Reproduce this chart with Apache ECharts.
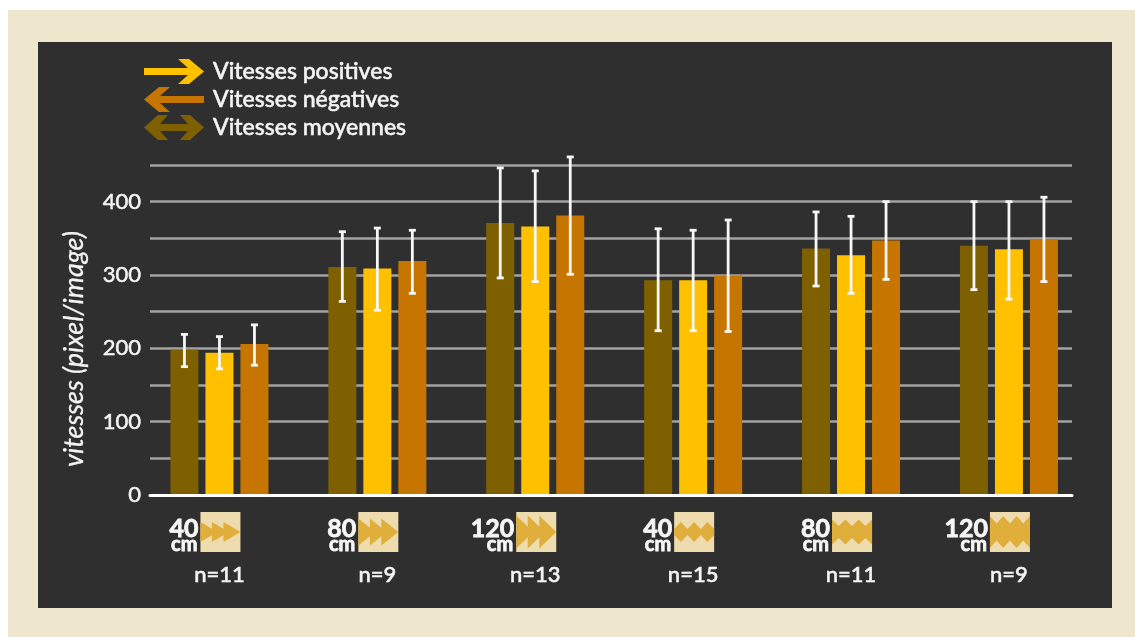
<!DOCTYPE html>
<html><head><meta charset="utf-8">
<style>html,body{margin:0;padding:0;background:#fff}#c{width:1135px;height:637px}</style>
<script src="https://cdn.jsdelivr.net/npm/echarts@6/dist/echarts.min.js"></script>
</head><body><div id="c"></div>
<script>
const distances = ['40','80','120','40','80','120'];
const counts = ['n=11','n=9','n=13','n=15','n=11','n=9'];
const tileKinds = ['arrow','arrow','arrow','wave','wave','wave'];
const moyennes = [198,311,371,293,336,340];
const positives = [194,309,366,293,327,335];
const negatives = [206,319,381,299,347,349];
const moyLow  = [175,264,296,224,285,280];
const moyHigh = [219,359,446,363,386,400];
const posLow  = [172,252,291,224,275,267];
const posHigh = [216,364,442,361,380,400];
const negLow  = [177,275,301,223,294,291];
const negHigh = [232,361,461,375,400,406];
const yTicks = [0,100,200,300,400];

const C = {page:'#EFE6CE',panel:'#2F2F2F',grid:'#A3A3A3',pos:'#FFC000',neg:'#C67600',moy:'#7F6000',tile:'#EEDCAF',mark:'#E0AE3A',text:'#F4F4F4'};
const FONT = 'Lato';
const heavy = {textBorderColor:C.text,textBorderWidth:0.5};

const arrowR = 'path://M0 9L44 9L34 0L45 0L60 12.5L45 25L34 25L44 16L0 16Z';
const arrowL = 'path://M60 9L16 9L26 0L15 0L0 12.5L15 25L26 25L16 16L60 16Z';
const arrowB = 'path://M0 12.5L14 0L24 0L16 9L44 9L36 0L46 0L60 12.5L46 25L36 25L44 16L16 16L24 25L14 25Z';

function errSeries(name, lows, highs, offset){
  return {
    type:'custom', name, xAxisIndex:1, yAxisIndex:1, z:4, silent:true,
    encode:{x:0,y:[1,2]},
    data:lows.map((l,i)=>[i,l,highs[i]]),
    renderItem(params, api){
      const hi = api.coord([api.value(0), api.value(2)]);
      const lo = api.coord([api.value(0), api.value(1)]);
      const x = hi[0]+offset, cap = 3.5;
      const st = {stroke:'#F7F7F7', lineWidth:2.8, fill:null};
      return {type:'group',children:[
        {type:'line',shape:{x1:x,y1:hi[1],x2:x,y2:lo[1]},style:st},
        {type:'line',shape:{x1:x-cap,y1:hi[1],x2:x+cap,y2:hi[1]},style:st},
        {type:'line',shape:{x1:x-cap,y1:lo[1],x2:x+cap,y2:lo[1]},style:st}
      ]};
    }
  };
}

function tileMarks(kind, level, cx, cy){
  const marks = [];
  const L = cx-20;
  if(kind==='arrow'){
    const h = [10,13.5,16.5][level];
    for(let i=0;i<3;i++){
      const x0 = L+i*11.5;
      marks.push({type:'polygon',shape:{points:[[x0,cy-h],[x0+17,cy],[x0,cy+h]]},style:{fill:C.mark}});
    }
  } else {
    const pk = [10,12.5,16][level], vl = [3,6,8.5][level];
    const top=[], bot=[];
    const n = 3;
    for(let i=0;i<=2*n;i++){
      const x = L+i*(40/(2*n));
      const odd = i%2===1;
      const d = level===0 ? (odd?pk:vl) : (odd?vl:pk);
      top.push([x,cy-d]); bot.unshift([x,cy+d]);
    }
    marks.push({type:'polygon',shape:{points:top.concat(bot)},style:{fill:C.mark}});
  }
  return marks;
}

const tileSeries = {
  type:'custom', name:'tuiles', xAxisIndex:1, yAxisIndex:1, z:3, silent:true, clip:false,
  encode:{x:0,y:1},
  data:distances.map((d,i)=>[i,0]),
  renderItem(params, api){
    const i = api.value(0);
    const p = api.coord([i,0]);
    const cx = p[0]+1, cy = 532;
    const level = ['40','80','120'].indexOf(distances[i]);
    const strong = {stroke:'#F6F6F6',lineWidth:0.8};
    const children = [
      {type:'rect',shape:{x:cx-20,y:cy-20,width:40,height:40},style:{fill:C.tile}},
      ...tileMarks(tileKinds[i], level, cx, cy),
      {type:'text',style:{x:cx-22,y:529,text:distances[i],fill:'#F6F6F6',font:'700 25px '+FONT,align:'right',verticalAlign:'middle',...strong}},
      {type:'text',style:{x:cx-23,y:545,text:'cm',fill:'#F6F6F6',font:'700 20px '+FONT,align:'right',verticalAlign:'middle',...strong}}
    ];
    return {type:'group',children};
  }
};

const chart = echarts.init(document.getElementById('c'),null,{renderer:'canvas'});
chart.setOption({
  animation:false,
  backgroundColor:'#fff',
  textStyle:{fontFamily:FONT},
  graphic:[
    {type:'rect',z:-10,silent:true,shape:{x:8,y:10,width:1127,height:627},style:{fill:C.page}},
    {type:'rect',z:-9,silent:true,shape:{x:38,y:42,width:1074,height:566},style:{fill:C.panel}}
  ],
  legend:{
    orient:'vertical',left:139,top:54,itemWidth:60,itemHeight:25,itemGap:3,
    selectedMode:false,
    textStyle:{color:C.text,fontSize:23,fontWeight:500,fontFamily:FONT,padding:[0,0,0,4],...heavy},
    data:[
      {name:'Vitesses positives',icon:arrowR},
      {name:'Vitesses négatives',icon:arrowL},
      {name:'Vitesses moyennes',icon:arrowB}
    ]
  },
  grid:[
    {left:150,top:165,width:922,height:330},
    {left:140.5,top:165,width:947.4,height:330}
  ],
  xAxis:[
    {gridIndex:0,type:'value',min:0,max:1,z:6,splitLine:{show:false},axisTick:{show:false},axisLabel:{show:false},
     axisLine:{show:true,onZero:false,lineStyle:{color:'#FFFFFF',width:3}}},
    {gridIndex:1,type:'category',data:counts,axisLine:{show:false},axisTick:{show:false},
     axisLabel:{color:C.text,fontSize:22,fontWeight:500,fontFamily:FONT,margin:69,interval:0,...heavy}}
  ],
  yAxis:[
    {gridIndex:0,type:'value',min:0,max:450,interval:50,
     name:'vitesses (pixel/image)',nameLocation:'middle',nameGap:62,
     nameTextStyle:{color:C.text,fontSize:27,fontStyle:'italic',fontWeight:400,fontFamily:FONT,padding:[0,38,0,0],textBorderColor:C.text,textBorderWidth:0.3},
     axisLine:{show:false},axisTick:{show:false},
     axisLabel:{color:C.text,fontSize:22,fontFamily:FONT,margin:9,...heavy,
       formatter:v=>yTicks.includes(v)?String(v):''},
     splitLine:{show:true,lineStyle:{color:C.grid,width:2.5}}},
    {gridIndex:1,type:'value',min:0,max:450,interval:50,show:false,splitLine:{show:false}}
  ],
  series:[
    {type:'bar',name:'Vitesses moyennes',xAxisIndex:1,yAxisIndex:1,data:moyennes,barWidth:28,barGap:'25%',itemStyle:{color:C.moy}},
    {type:'bar',name:'Vitesses positives',xAxisIndex:1,yAxisIndex:1,data:positives,barWidth:28,barGap:'25%',itemStyle:{color:C.pos}},
    {type:'bar',name:'Vitesses négatives',xAxisIndex:1,yAxisIndex:1,data:negatives,barWidth:28,barGap:'25%',itemStyle:{color:C.neg}},
    errSeries('err moyennes',moyLow,moyHigh,-35),
    errSeries('err positives',posLow,posHigh,0),
    errSeries('err négatives',negLow,negHigh,35),
    tileSeries
  ]
});
</script></body></html>
